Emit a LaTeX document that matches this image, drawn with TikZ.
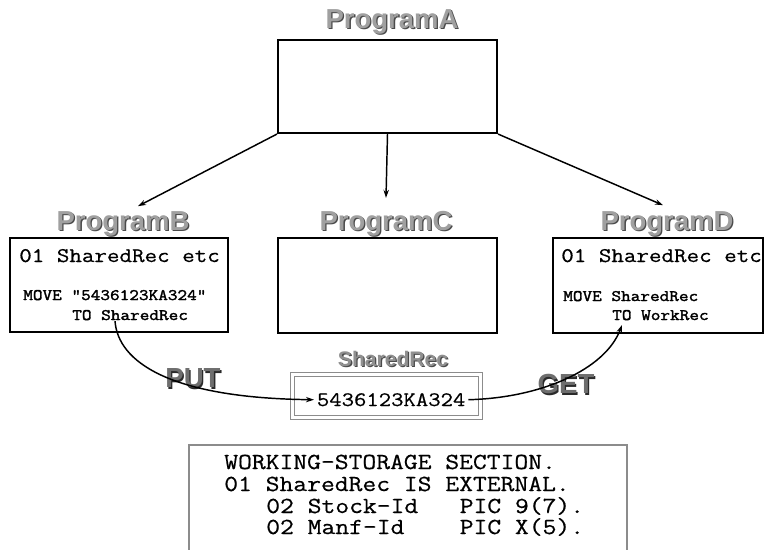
\documentclass[tikz,border=0pt]{standalone}
\usepackage{fontspec}
\setsansfont{Liberation Sans}
\setmonofont{Latin Modern Mono}[FakeStretch=1.17, FakeBold=0.6]
\newfontfamily\boldmono{Latin Modern Mono}[FakeStretch=1.17, FakeBold=2]
\usetikzlibrary{arrows.meta,calc}
\definecolor{titlefill}{HTML}{A0A0A0}
\definecolor{titleshade}{HTML}{4A4A4A}
\definecolor{opfill}{HTML}{6E6E6E}
\definecolor{opshade}{HTML}{2A2A2A}
\definecolor{boxgray}{HTML}{8C8C8C}
\newdimen\px \px=0.75pt
\newcommand{\embossed}[3]{\makebox[0pt][l]{\hspace{1pt}\raisebox{-1pt}{\textcolor{#2}{#3}}}\textcolor{#1}{#3}}

\begin{document}
\begin{tikzpicture}[x=0.75pt, y=-0.75pt,
        prog/.style={rectangle, draw, line width=1.6pt, inner sep=0pt},
        title/.style={font=\sffamily\bfseries\fontsize{20.6}{24}\selectfont, inner sep=2pt, anchor=base},
        opname/.style={font=\sffamily\bfseries\fontsize{20.7}{24}\selectfont, inner sep=0pt},
        code/.style={font=\ttfamily\fontsize{15.6}{18}\selectfont, anchor=base west, inner sep=0pt},
        smallcode/.style={font=\boldmono\fontsize{12}{14}\selectfont, anchor=base west, inner sep=0pt},
        wscode/.style={font=\ttfamily\fontsize{17.2}{20}\selectfont, anchor=base west, inner sep=0pt},
        link/.style={-{Stealth[length=6pt,width=4pt]}, line width=1.1pt}
    ]
        \useasboundingbox (0,0) rectangle (765,550);

        % === Program A ===
        \node[title] (tA) at (392,28) {\embossed{titlefill}{titleshade}{ProgramA}};
        \node[prog, minimum width=219*\px, minimum height=93*\px] (A) at (387.5,86.5) {};

        % === Programs B, C, D ===
        \node[title] (tB) at (123,230) {\embossed{titlefill}{titleshade}{ProgramB}};
        \node[prog, minimum width=218*\px, minimum height=94*\px] (B) at (119,285) {};
        \node[code] (b1) at (19,262) {01 SharedRec etc};
        \node[smallcode] (b2) at (23,300) {MOVE "5436123KA324"};
        \node[smallcode] (b3) at (72,320) {TO SharedRec};

        \node[title] (tC) at (386,230) {\embossed{titlefill}{titleshade}{ProgramC}};
        \node[prog, minimum width=219*\px, minimum height=95*\px] (C) at (387.5,285.5) {};

        \node[title] (tD) at (667,230) {\embossed{titlefill}{titleshade}{ProgramD}};
        \node[prog, minimum width=210*\px, minimum height=95*\px] (D) at (658,285.5) {};
        \node[code] (d1) at (561,262) {01 SharedRec etc};
        \node[smallcode] (d2) at (563,301) {MOVE SharedRec};
        \node[smallcode] (d3) at (612,320) {TO WorkRec};

        \draw[link] (A.south west) -- ($(tB.north)+(15,-2)$);
        \draw[link] (A.south) -- ($(tC.north)+(0,-10)$);
        \draw[link] (A.south east) -- ($(tD.north)+(-4,-3)$);

        % === shared record ===
        \node[title, font=\sffamily\bfseries\fontsize{15.8}{18}\selectfont] (tS) at (393,366.5) {\embossed{titlefill!90!black}{titleshade}{SharedRec}};
        \node[rectangle, draw=boxgray, line width=1.2pt, double=white, double distance=1.6pt,
              minimum width=188*\px, minimum height=43*\px, inner sep=0pt] (S) at (386.5,396) {};
        \node[font=\ttfamily\fontsize{15.4}{18}\selectfont, anchor=base west, inner sep=2pt] (val) at (314,406) {5436123KA324};

        \node[opname] (put) at (193,379) {\embossed{opfill}{opshade}{PUT}};
        \node[opname] (get) at (566,385) {\embossed{opfill}{opshade}{GET}};

        \coordinate (putstart) at (115,321);
        \coordinate (getend) at (622,325);
        \draw[link] (putstart) .. controls (118,362) and (170,398) .. (val.west);
        \draw[link] (val.east) .. controls (540,398) and (605,370) .. (getend);

        % === working storage ===
        \node[rectangle, draw=boxgray, line width=1.1pt, minimum width=438*\px, minimum height=111*\px, inner sep=0pt] (ws) at (408,500.5) {};
        \node[wscode] (w1) at (224,469) {WORKING-STORAGE SECTION.};
        \node[wscode] (w2) at (224,491) {01 SharedRec IS EXTERNAL.};
        \node[wscode] (w3) at (266,513) {02 Stock-Id~~~PIC 9(7).};
        \node[wscode] (w4) at (266,534) {02 Manf-Id~~~~PIC X(5).};
    \end{tikzpicture}
\end{document}
